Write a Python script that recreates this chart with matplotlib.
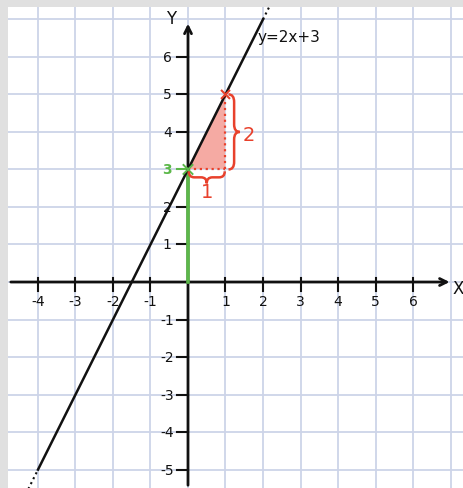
import numpy as np
import matplotlib.pyplot as plt
from matplotlib.path import Path
from matplotlib.patches import PathPatch, Polygon

# data
slope = 2
intercept = 3
x_ticks = [-4, -3, -2, -1, 1, 2, 3, 4, 5, 6]
y_ticks = [6, 5, 4, 3, 2, 1, -1, -2, -3, -4, -5]
tri_x = [0, 1, 1]
tri_y = [3, 3, 5]
line_solid = [-4, 2]
line_dot_low = [-4.4, -4]
line_dot_high = [2, 2.2]

black = '#111111'
red = '#e8412c'
green = '#5cb84a'
gridc = '#cdd4e8'
fnt = 10

fig = plt.figure(figsize=(4.64, 4.89), dpi=100)
fig.patch.set_facecolor('#e0e0e0')
ax = fig.add_axes([8/464, 0, 456/464, 481/489])
ax.set_facecolor('white')
ax.set_xlim(-4.8, 7.36)
ax.set_ylim(-5.49, 7.33)
for s in ax.spines.values():
    s.set_visible(False)
ax.set_xticks([])
ax.set_yticks([])

# grid
for gx in range(-4, 8):
    ax.axvline(gx, color=gridc, lw=1.3, zorder=0)
for gy in range(-5, 8):
    ax.axhline(gy, color=gridc, lw=1.3, zorder=0)

# axes with arrows
ax.annotate('', xy=(7.05, 0), xytext=(-4.8, 0),
            arrowprops=dict(arrowstyle='->,head_length=0.5,head_width=0.25', color=black, lw=2.0))
ax.annotate('', xy=(0, 6.96), xytext=(0, -5.49),
            arrowprops=dict(arrowstyle='->,head_length=0.5,head_width=0.25', color=black, lw=2.0))
ax.text(7.2, -0.15, 'X', fontsize=fnt + 2, ha='center', va='center', color=black)
ax.text(-0.45, 7.05, 'Y', fontsize=fnt + 2, ha='center', va='center', color=black)

# ticks
for t in x_ticks:
    ax.plot([t, t], [0.1, -0.25], color=black, lw=1.5)
    ax.text(t, -0.5, str(t), fontsize=fnt, ha='center', va='center', color=black)
for t in y_ticks:
    c = green if t == 3 else black
    ax.plot([-0.3, 0], [t, t], color=c, lw=1.5)
    ax.text(-0.55, t, str(t), fontsize=fnt, ha='center', va='center', color=c,
            fontweight='bold' if t == 3 else 'normal')

# green intercept segment
ax.plot([0, 0], [0, intercept], color=green, lw=2.6, zorder=4)
ax.plot([-0.12, 0.12], [3.12, 2.88], color=green, lw=1.4, zorder=5)
ax.plot([-0.12, 0.12], [2.88, 3.12], color=green, lw=1.4, zorder=5)

# slope triangle
ax.add_patch(Polygon(list(zip(tri_x, tri_y)), closed=True, facecolor='#f5aaa3',
                     edgecolor='none', zorder=2))
ax.plot([0, 1], [3, 3], color=red, lw=1.6, ls=':', zorder=3)
ax.plot([1, 1], [3, 5], color=red, lw=1.6, ls=':', zorder=3)
ax.plot([0.9, 1.1], [5.1, 4.9], color=red, lw=1.5, zorder=6)
ax.plot([0.9, 1.1], [4.9, 5.1], color=red, lw=1.5, zorder=6)


def brace_v(x, y1, y2, w):
    ym = (y1 + y2) / 2
    r = 0.2
    verts = [(x, y1), (x + w / 2, y1), (x + w / 2, y1 + r),
             (x + w / 2, ym - r),
             (x + w / 2, ym), (x + w, ym),
             (x + w / 2, ym), (x + w / 2, ym + r),
             (x + w / 2, y2 - r),
             (x + w / 2, y2), (x, y2)]
    codes = [Path.MOVETO, Path.CURVE3, Path.CURVE3, Path.LINETO,
             Path.CURVE3, Path.CURVE3, Path.CURVE3, Path.CURVE3,
             Path.LINETO, Path.CURVE3, Path.CURVE3]
    return Path(verts, codes)


def brace_h(y, x1, x2, h):
    xm = (x1 + x2) / 2
    r = 0.15
    verts = [(x1, y), (x1, y - h / 2), (x1 + r, y - h / 2),
             (xm - r, y - h / 2),
             (xm, y - h / 2), (xm, y - h),
             (xm, y - h / 2), (xm + r, y - h / 2),
             (x2 - r, y - h / 2),
             (x2, y - h / 2), (x2, y)]
    codes = [Path.MOVETO, Path.CURVE3, Path.CURVE3, Path.LINETO,
             Path.CURVE3, Path.CURVE3, Path.CURVE3, Path.CURVE3,
             Path.LINETO, Path.CURVE3, Path.CURVE3]
    return Path(verts, codes)


ax.add_patch(PathPatch(brace_v(1.08, 3.0, 5.0, 0.3), fill=False, edgecolor=red, lw=1.8, zorder=5))
ax.add_patch(PathPatch(brace_h(2.95, 0.02, 0.98, 0.32), fill=False, edgecolor=red, lw=1.8, zorder=5))
ax.text(1.62, 3.92, '2', fontsize=fnt + 4, color=red, ha='center', va='center')
ax.text(0.5, 2.42, '1', fontsize=fnt + 4, color=red, ha='center', va='center')

# the line y = 2x + 3
xs = np.array(line_solid)
ax.plot(xs, slope * xs + intercept, color=black, lw=1.8, zorder=4)
xs = np.array(line_dot_low)
ax.plot(xs, slope * xs + intercept, color=black, lw=1.5, ls=':', zorder=4)
xs = np.array(line_dot_high)
ax.plot(xs, slope * xs + intercept, color=black, lw=1.5, ls=':', zorder=4)
ax.text(1.85, 6.55, 'y=2x+3', fontsize=fnt + 1, color=black, ha='left', va='center')

fig.savefig('out.png', dpi=100, facecolor=fig.get_facecolor())
